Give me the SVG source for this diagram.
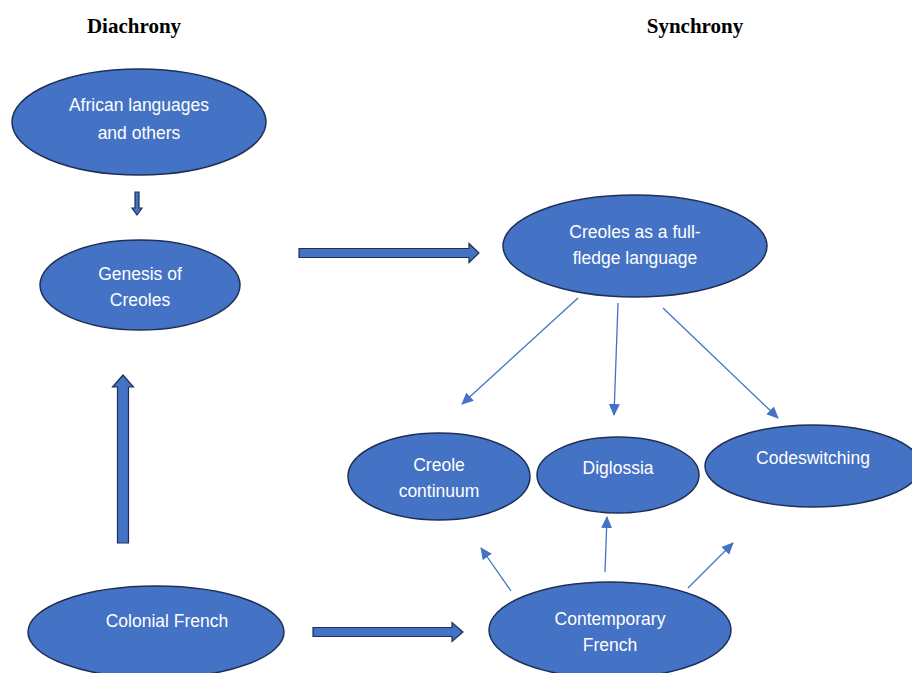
<svg xmlns="http://www.w3.org/2000/svg" width="912" height="673" viewBox="0 0 912 673">
<style>
.node ellipse{fill:#4472C4;stroke:#1F2F55;stroke-width:1.5}
.node text{font-family:"Liberation Sans",Arial,sans-serif;font-size:17.5px;fill:#FFFFFF;text-anchor:middle}
.title{font-family:"Liberation Serif","Times New Roman",serif;font-weight:bold;font-size:21px;fill:#000;text-anchor:middle}
.block{fill:#4472C4;stroke:#1F2F55;stroke-width:1.2}
.thin{stroke:#4472C4;stroke-width:1.3;fill:none;marker-end:url(#ah)}
</style>
<defs>
<marker id="ah" markerWidth="12" markerHeight="11" refX="11" refY="5.5" orient="auto" markerUnits="userSpaceOnUse">
<path d="M0,0 L12,5.5 L0,11 z" fill="#4472C4"/>
</marker>
</defs>
<rect width="912" height="673" fill="#FFFFFF"/>
<text class="title" x="134" y="33">Diachrony</text>
<text class="title" x="695" y="33">Synchrony</text>

<g id="connectors">
<path class="block" d="M135,192 h4 v16 h3 l-5,7 l-5,-7 h3 z"/>
<path class="block" d="M299,248.5 h170 v-5 l10,9.5 l-10,9.5 v-5 h-170 z"/>
<path class="block" d="M117.5,543 v-156 h-5 l10.5,-12 l10.5,12 h-5 v156 z"/>
<path class="block" d="M313,627.5 h139 v-5 l11,9.5 l-11,9.5 v-5 h-139 z"/>
<line class="thin" x1="578" y1="298" x2="462" y2="404"/>
<line class="thin" x1="618" y1="303" x2="614" y2="415"/>
<line class="thin" x1="663" y1="308" x2="778" y2="418"/>
<line class="thin" x1="511" y1="591" x2="481" y2="548"/>
<line class="thin" x1="605" y1="572" x2="607" y2="517"/>
<line class="thin" x1="688" y1="588" x2="733" y2="543"/>
</g>

<g id="african" class="node">
<ellipse cx="139" cy="122" rx="127" ry="53"/>
<text x="139" y="111">African languages</text>
<text x="139" y="139">and others</text>
</g>
<g id="genesis" class="node">
<ellipse cx="140" cy="285" rx="100" ry="45"/>
<text x="140" y="280">Genesis of</text>
<text x="140" y="306">Creoles</text>
</g>
<g id="colonial" class="node">
<ellipse cx="156" cy="632" rx="128" ry="46"/>
<text x="167" y="627">Colonial French</text>
</g>
<g id="fullfledge" class="node">
<ellipse cx="635" cy="246" rx="132" ry="51"/>
<text x="635" y="238">Creoles as a full-</text>
<text x="635" y="264">fledge language</text>
</g>
<g id="continuum" class="node">
<ellipse cx="439" cy="476.5" rx="91" ry="43.5"/>
<text x="439" y="471">Creole</text>
<text x="439" y="497">continuum</text>
</g>
<g id="diglossia" class="node">
<ellipse cx="618" cy="475" rx="81" ry="38"/>
<text x="618" y="474">Diglossia</text>
</g>
<g id="codeswitching" class="node">
<ellipse cx="813" cy="466" rx="108" ry="41"/>
<text x="813" y="464">Codeswitching</text>
</g>
<g id="contemporary" class="node">
<ellipse cx="610" cy="630" rx="121" ry="48"/>
<text x="610" y="625">Contemporary</text>
<text x="610" y="651">French</text>
</g>
</svg>
